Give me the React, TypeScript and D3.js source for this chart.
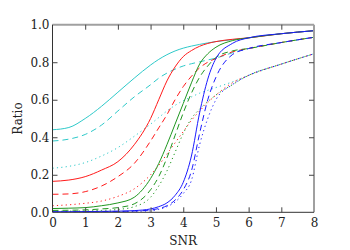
import React, { useEffect, useRef } from 'react';
import * as d3 from 'd3';

const W = 350;
const H = 250;
const M = { top: 24.7, right: 36, bottom: 37.7, left: 52.5 };

// SNR sample positions shared by every series
const snr = [0, 0.5, 1, 1.5, 2, 2.5, 3, 3.25, 3.5, 3.75, 4, 4.25, 4.5, 4.75, 5, 5.5, 6, 7, 8];

// ratios, one array per curve
const cyanSolid = [0.44, 0.452, 0.5, 0.565, 0.64, 0.715, 0.785, 0.815, 0.84, 0.86, 0.875, 0.886, 0.895, 0.903, 0.91, 0.92, 0.93, 0.952, 0.968];
const cyanDashed = [0.38, 0.39, 0.415, 0.465, 0.54, 0.615, 0.68, 0.715, 0.742, 0.763, 0.78, 0.792, 0.802, 0.812, 0.822, 0.85, 0.873, 0.905, 0.933];
const cyanDotted = [0.235, 0.245, 0.265, 0.3, 0.345, 0.405, 0.47, 0.505, 0.54, 0.57, 0.595, 0.615, 0.635, 0.65, 0.665, 0.695, 0.73, 0.79, 0.845];
const redSolid = [0.165, 0.172, 0.19, 0.225, 0.27, 0.36, 0.5, 0.6, 0.7, 0.775, 0.83, 0.862, 0.885, 0.9, 0.91, 0.922, 0.93, 0.952, 0.968];
const redDashed = [0.096, 0.098, 0.11, 0.14, 0.19, 0.26, 0.38, 0.45, 0.52, 0.6, 0.67, 0.725, 0.77, 0.8, 0.82, 0.855, 0.873, 0.905, 0.933];
const redDotted = [0.035, 0.04, 0.048, 0.06, 0.085, 0.125, 0.2, 0.25, 0.31, 0.37, 0.43, 0.49, 0.54, 0.585, 0.625, 0.69, 0.73, 0.79, 0.845];
const greenSolid = [0.02, 0.022, 0.025, 0.035, 0.05, 0.08, 0.18, 0.26, 0.36, 0.47, 0.58, 0.69, 0.79, 0.845, 0.88, 0.915, 0.93, 0.952, 0.968];
const greenDashed = [0.01, 0.011, 0.013, 0.018, 0.025, 0.045, 0.12, 0.19, 0.29, 0.41, 0.53, 0.635, 0.72, 0.78, 0.825, 0.86, 0.873, 0.905, 0.933];
const greenDotted = [0.005, 0.006, 0.007, 0.01, 0.015, 0.03, 0.08, 0.14, 0.22, 0.32, 0.42, 0.5, 0.55, 0.59, 0.625, 0.68, 0.73, 0.79, 0.845];
const blueSolid = [0.003, 0.003, 0.004, 0.005, 0.006, 0.009, 0.018, 0.03, 0.05, 0.09, 0.16, 0.3, 0.53, 0.71, 0.82, 0.9, 0.93, 0.952, 0.968];
const blueDashed = [0.002, 0.002, 0.003, 0.004, 0.005, 0.007, 0.012, 0.02, 0.035, 0.065, 0.12, 0.22, 0.42, 0.6, 0.72, 0.84, 0.873, 0.905, 0.933];
const blueDotted = [0.001, 0.001, 0.002, 0.003, 0.004, 0.005, 0.008, 0.015, 0.03, 0.055, 0.1, 0.17, 0.36, 0.5, 0.6, 0.68, 0.73, 0.79, 0.845];

const CYAN = '#2ec9c9';
const RED = '#ff1a1a';
const GREEN = '#1f961f';
const BLUE = '#1a1aff';
const DASH = '6,4';
const DOT = '1.2,3.2';

const series = [
  { values: cyanSolid, color: CYAN, dash: null },
  { values: cyanDashed, color: CYAN, dash: DASH },
  { values: cyanDotted, color: CYAN, dash: DOT },
  { values: redSolid, color: RED, dash: null },
  { values: redDashed, color: RED, dash: DASH },
  { values: redDotted, color: RED, dash: DOT },
  { values: greenSolid, color: GREEN, dash: null },
  { values: greenDashed, color: GREEN, dash: DASH },
  { values: greenDotted, color: GREEN, dash: DOT },
  { values: blueSolid, color: BLUE, dash: null },
  { values: blueDashed, color: BLUE, dash: DASH },
  { values: blueDotted, color: BLUE, dash: DOT },
];

const xTicks = [0, 1, 2, 3, 4, 5, 6, 7, 8];
const yTicks = [0, 0.2, 0.4, 0.6, 0.8, 1.0];

const FONT = "'DejaVu Serif', 'Liberation Serif', serif";

const App = () => {
  const svgRef = useRef<SVGSVGElement>(null);

  useEffect(() => {
    const svg = d3.select(svgRef.current);
    svg.selectAll('*').remove();

    const x = d3.scaleLinear().domain([0, 8]).range([M.left, W - M.right]);
    const y = d3.scaleLinear().domain([0, 1]).range([H - M.bottom, M.top]);

    // curves
    const line = d3.line<number>()
      .x((_, i) => x(snr[i]))
      .y(d => y(d))
      .curve(d3.curveMonotoneX);

    svg.append('clipPath').attr('id', 'plot')
      .append('rect')
      .attr('x', x(0)).attr('y', y(1))
      .attr('width', x(8) - x(0)).attr('height', y(0) - y(1));

    svg.append('g')
      .attr('clip-path', 'url(#plot)')
      .selectAll('path')
      .data(series)
      .join('path')
        .attr('d', d => line(d.values))
        .attr('fill', 'none')
        .attr('stroke', d => d.color)
        .attr('stroke-width', 1)
        .attr('stroke-dasharray', d => d.dash);

    // frame: top and right gray, left and bottom dark
    const frame = svg.append('g');
    frame.append('line')
      .attr('x1', x(0)).attr('x2', x(8)).attr('y1', y(1)).attr('y2', y(1))
      .attr('stroke', '#a0a0a0').attr('stroke-width', 2);
    frame.append('line')
      .attr('x1', x(8)).attr('x2', x(8)).attr('y1', y(1)).attr('y2', y(0))
      .attr('stroke', '#a0a0a0').attr('stroke-width', 2);
    frame.append('line')
      .attr('x1', x(0)).attr('x2', x(0)).attr('y1', y(1)).attr('y2', y(0))
      .attr('stroke', '#333').attr('stroke-width', 1);
    frame.append('line')
      .attr('x1', x(0)).attr('x2', x(8)).attr('y1', y(0)).attr('y2', y(0))
      .attr('stroke', '#333').attr('stroke-width', 1);

    // ticks pointing inward on all four sides
    const xAxisB = d3.axisBottom(x).tickValues(xTicks).tickSizeInner(-5).tickSizeOuter(0).tickPadding(6.5);
    const xAxisT = d3.axisTop(x).tickValues(xTicks).tickSizeInner(-5).tickSizeOuter(0).tickFormat(() => '');
    const yAxisL = d3.axisLeft(y).tickValues(yTicks).tickSizeInner(-5).tickSizeOuter(0).tickPadding(3).tickFormat(d3.format('.1f'));
    const yAxisR = d3.axisRight(y).tickValues(yTicks).tickSizeInner(-5).tickSizeOuter(0).tickFormat(() => '');

    const styleAxis = g => {
      g.attr('font-family', null).attr('font-size', null);
      g.select('.domain').remove();
      g.selectAll('.tick line').attr('stroke', '#444');
      g.selectAll('text').attr('fill', '#222').style('font-family', FONT).style('font-size', '12px');
      g.selectAll('.tick').filter((d, i, n) => i === 0 || i === n.length - 1).select('line').remove();
    };

    svg.append('g').attr('transform', `translate(0,${y(0)})`).call(xAxisB).call(styleAxis);
    svg.append('g').attr('transform', `translate(0,${y(1)})`).call(xAxisT).call(styleAxis);
    svg.append('g').attr('transform', `translate(${x(0)},0)`).call(yAxisL).call(styleAxis);
    svg.append('g').attr('transform', `translate(${x(8)},0)`).call(yAxisR).call(styleAxis);

    // axis titles
    svg.append('text')
      .attr('x', (x(0) + x(8)) / 2).attr('y', 245)
      .attr('text-anchor', 'middle')
      .style('font-family', FONT).style('font-size', '12px').attr('fill', '#222')
      .text('SNR');
    svg.append('text')
      .attr('transform', `translate(22,${(y(0) + y(1)) / 2}) rotate(-90)`)
      .attr('text-anchor', 'middle')
      .style('font-family', FONT).style('font-size', '12px').attr('fill', '#222')
      .text('Ratio');
  }, []);

  return (
    <svg
      ref={svgRef}
      width={W}
      height={H}
      style={{ position: 'absolute', left: 0, top: 0, background: '#fff' }}
    />
  );
};

export default App;
